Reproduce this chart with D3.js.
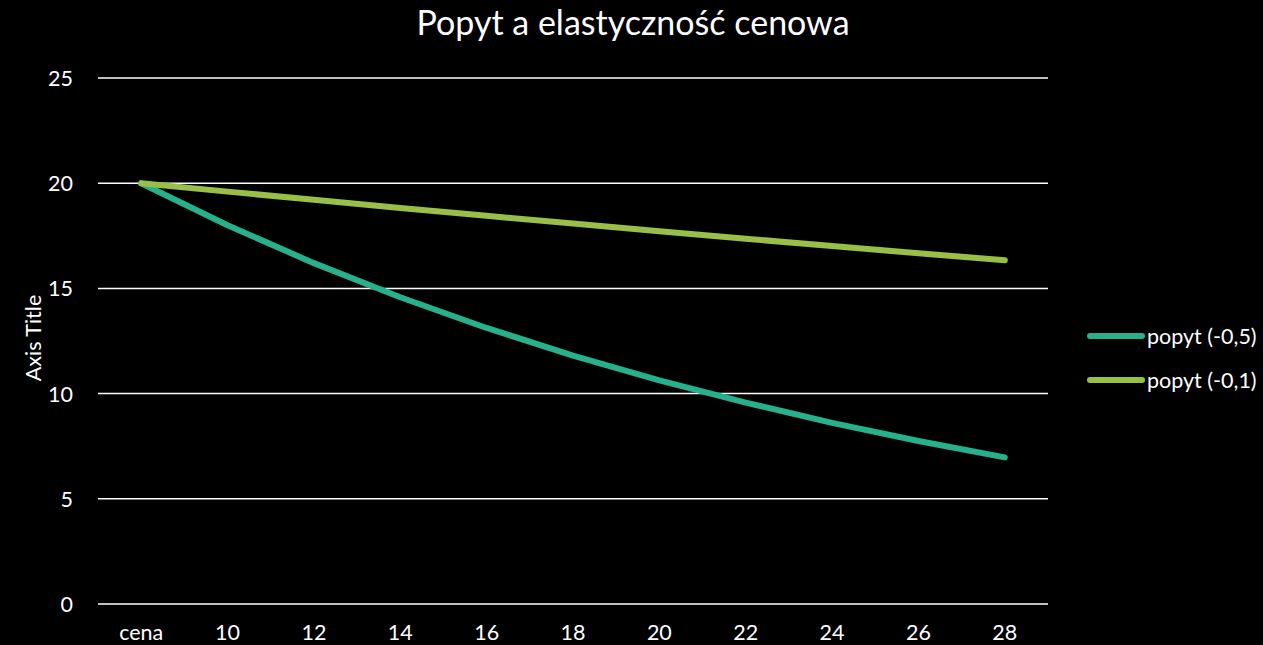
<!DOCTYPE html>
<html>
<head>
<meta charset="utf-8">
<script src="https://cdn.jsdelivr.net/npm/d3@7"></script>
<style>
html,body{margin:0;padding:0;background:#000;}
svg{display:block;}
text{font-family:Lato,"Open Sans",sans-serif;fill:#fff;}
</style>
</head>
<body>
<svg id="chart" width="1263" height="645"></svg>
<script>
const categories = ["cena","10","12","14","16","18","20","22","24","26","28"];
const popyt05 = [20, 18, 16.2, 14.58, 13.12, 11.81, 10.63, 9.57, 8.61, 7.75, 6.97];
const popyt01 = [20, 19.6, 19.21, 18.82, 18.45, 18.08, 17.72, 17.36, 17.01, 16.67, 16.34];
const seriesNames = ["popyt (-0,5)", "popyt (-0,1)"];
const seriesColors = ["#26b08c", "#98c046"];
const yTicks = [0,5,10,15,20,25];
const chartTitle = "Popyt a elastyczność cenowa";
const yTitle = "Axis Title";

const svg = d3.select("#chart");
const mLeft = 98, mRight = 1048, mTop = 78, mBottom = 604;
const fs = "21.5px";

const x = d3.scaleBand().domain(categories).range([mLeft, mRight]).padding(0);
const y = d3.scaleLinear().domain([0,25]).range([mBottom, mTop]);

// gridlines
svg.append("g").selectAll("line").data(yTicks).join("line")
  .attr("x1", mLeft).attr("x2", mRight)
  .attr("y1", d => y(d)).attr("y2", d => y(d))
  .attr("stroke", "#ffffff").attr("stroke-width", 1.5);

// y axis labels
const yAxis = d3.axisLeft(y).tickValues(yTicks).tickSize(0).tickPadding(0);
const gy = svg.append("g").attr("transform", `translate(${mLeft-25},0)`).call(yAxis);
gy.select(".domain").remove();
gy.selectAll("text").attr("fill","#fff").style("font-size",fs).attr("dy","0.35em").attr("x",0);

// x axis labels
const xAxis = d3.axisBottom(x).tickSize(0).tickPadding(0);
const gx = svg.append("g").attr("transform", `translate(0,${mBottom+28})`).call(xAxis);
gx.select(".domain").remove();
gx.selectAll("text").attr("fill","#fff").style("font-size",fs).attr("dy","0.35em").attr("y",0);

// lines
const line = d3.line().x((d,i) => x(categories[i]) + x.bandwidth()/2).y(d => y(d));
[popyt05, popyt01].forEach((s, k) => {
  svg.append("path").datum(s)
    .attr("d", line)
    .attr("fill","none")
    .attr("stroke", seriesColors[k])
    .attr("stroke-width", 6)
    .attr("stroke-linecap","round")
    .attr("stroke-linejoin","round");
});

// title
svg.append("text").attr("x", 633).attr("y", 35).attr("text-anchor","middle")
  .style("font-size","34px").text(chartTitle);

// y title
svg.append("text").attr("transform","translate(41,338) rotate(-90)")
  .attr("text-anchor","middle").style("font-size",fs).text(yTitle);

// legend
const lg = svg.append("g");
seriesNames.forEach((n,k) => {
  const ly = 336 + k*44;
  lg.append("line").attr("x1",1090).attr("x2",1142).attr("y1",ly).attr("y2",ly)
    .attr("stroke", seriesColors[k]).attr("stroke-width",6).attr("stroke-linecap","round");
  lg.append("text").attr("x",1147).attr("y",ly).attr("dy","0.35em")
    .style("font-size",fs).text(n);
});
</script>
</body>
</html>
